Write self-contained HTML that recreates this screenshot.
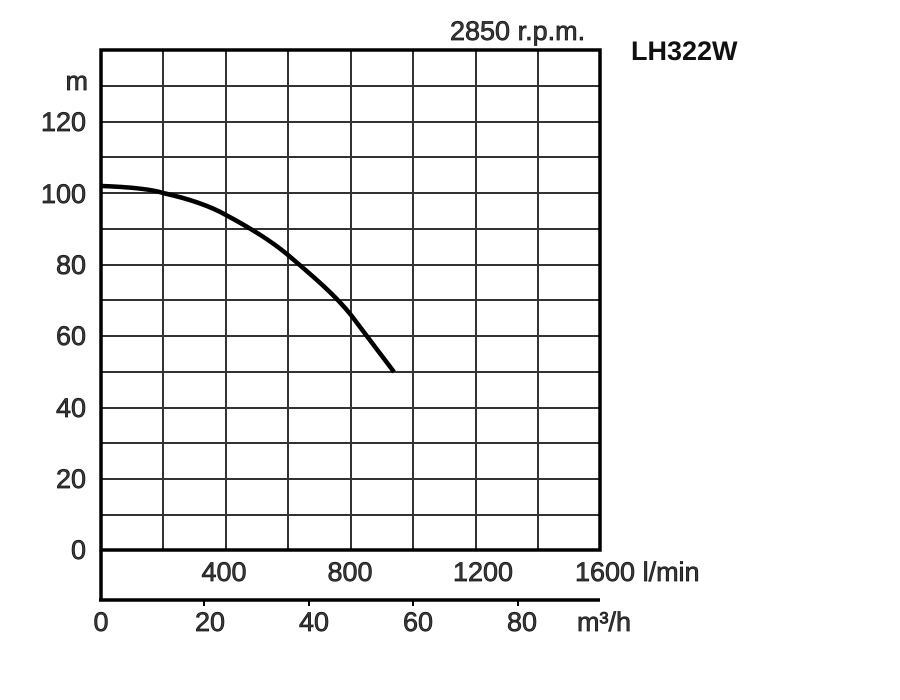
<!DOCTYPE html>
<html><head><meta charset="utf-8"><style>html,body{margin:0;padding:0;background:#fff}svg{display:block}</style></head>
<body>
<svg width="900" height="700" xmlns="http://www.w3.org/2000/svg" font-family="Liberation Sans, Arial, sans-serif">
<g stroke="#333" stroke-width="2">
<line x1="163" y1="50" x2="163" y2="550"/><line x1="226" y1="50" x2="226" y2="550"/>
<line x1="288" y1="50" x2="288" y2="550"/><line x1="351" y1="50" x2="351" y2="550"/>
<line x1="413" y1="50" x2="413" y2="550"/><line x1="476" y1="50" x2="476" y2="550"/>
<line x1="538" y1="50" x2="538" y2="550"/>
<line x1="100" y1="86" x2="600" y2="86"/><line x1="100" y1="122" x2="600" y2="122"/>
<line x1="100" y1="157" x2="600" y2="157"/><line x1="100" y1="193" x2="600" y2="193"/>
<line x1="100" y1="229" x2="600" y2="229"/><line x1="100" y1="265" x2="600" y2="265"/>
<line x1="100" y1="300" x2="600" y2="300"/><line x1="100" y1="336" x2="600" y2="336"/>
<line x1="100" y1="372" x2="600" y2="372"/><line x1="100" y1="408" x2="600" y2="408"/>
<line x1="100" y1="443" x2="600" y2="443"/><line x1="100" y1="479" x2="600" y2="479"/>
<line x1="100" y1="515" x2="600" y2="515"/>
</g>
<g stroke="#000" stroke-width="3.5" fill="none">
<rect x="101" y="50" width="499" height="500"/>
<line x1="101" y1="550" x2="101" y2="601"/>
<line x1="99" y1="600" x2="600" y2="600"/>
</g>
<g stroke="#000" stroke-width="2">
<line x1="204" y1="600" x2="204" y2="606"/><line x1="309" y1="600" x2="309" y2="606"/>
<line x1="413" y1="600" x2="413" y2="606"/><line x1="518" y1="600" x2="518" y2="606"/>
</g>
<path d="M101,186 C130,187 150,189 163,193 C190,199 210,206 226,215 C250,228 270,240 288,255 C315,278 335,295 351,315 C370,340 382,356 394,372" stroke="#000" stroke-width="4.5" fill="none"/>
<g font-size="27" fill="#3a3a3a" stroke="#111" stroke-width="0.7">
<text x="88" y="90" text-anchor="end">m</text>
<text x="86" y="131" text-anchor="end">120</text>
<text x="86" y="203" text-anchor="end">100</text>
<text x="86" y="274" text-anchor="end">80</text>
<text x="86" y="345" text-anchor="end">60</text>
<text x="86" y="417" text-anchor="end">40</text>
<text x="86" y="488" text-anchor="end">20</text>
<text x="86" y="559" text-anchor="end">0</text>
<text x="224" y="581" text-anchor="middle">400</text>
<text x="350" y="581" text-anchor="middle">800</text>
<text x="483" y="581" text-anchor="middle">1200</text>
<text x="575" y="581">1600 l/min</text>
<text x="101" y="631" text-anchor="middle">0</text>
<text x="210" y="631" text-anchor="middle">20</text>
<text x="314" y="631" text-anchor="middle">40</text>
<text x="418" y="631" text-anchor="middle">60</text>
<text x="522" y="631" text-anchor="middle">80</text>
<text x="577" y="631">m³/h</text>
<text x="450" y="40">2850 r.p.m.</text>
</g>
<text x="631" y="60" font-size="27" font-weight="bold" fill="#111">LH322W</text>
</svg>
</body></html>
